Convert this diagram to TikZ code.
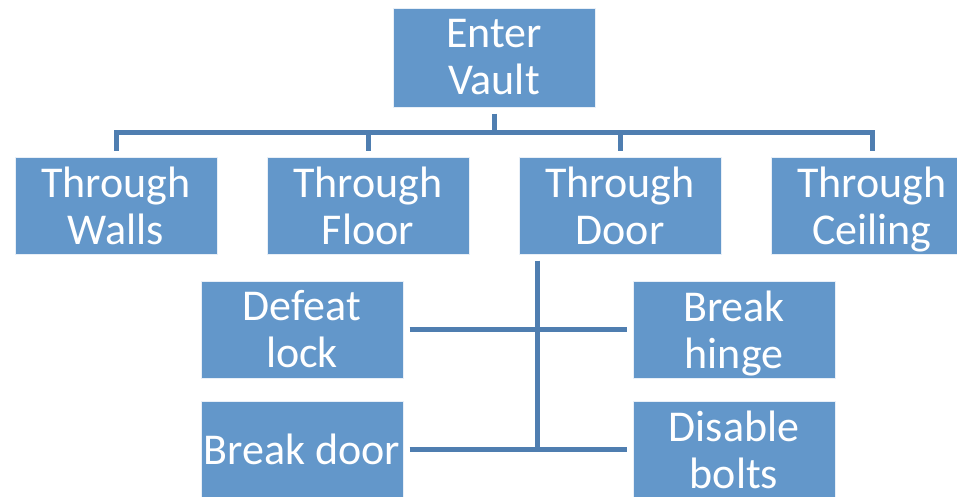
\documentclass[tikz,border=0pt]{standalone}
\usepackage{fontspec}
\setmainfont{Carlito}
\definecolor{boxblue}{HTML}{6397CA}
\definecolor{lineblue}{HTML}{4F7EB0}
\newcommand\nodesc[1]{\raisebox{0pt}[\height][0pt]{#1}}
\begin{document}
\begin{tikzpicture}[x=1pt,y=-1pt,
  box/.style={fill=boxblue, draw=white!85!boxblue, line width=1pt, minimum width=202pt, minimum height=97pt,
    text=white, font=\fontsize{44}{47}\selectfont, align=center, inner sep=0pt},
  conn/.style={draw=lineblue, line width=5pt}]
\useasboundingbox (0,0) rectangle (957,496);
\node[box, minimum height=99pt] (ev) at (494,57.5) {Enter\\Vault};
\node[box] (walls) at (116,205.5) {Through\\Walls};
\node[box] (floor) at (368,205.5) {Through\\Floor};
\node[box] (door) at (620,205.5) {Through\\Door};
\node[box] (ceil) at (872,205.5) {Through\\\nodesc{Ceiling}};
\node[box] (defeat) at (302,329.5) {Defeat\\lock};
\node[box] (hinge) at (734,329.5) {Break\\\nodesc{hinge}};
\node[box] (bdoor) at (302,449.5) {Break door};
\node[box] (bolts) at (734,449.5) {Disable\\bolts};
% top level connectors
\coordinate (bus) at (0,132);
\draw[conn] ([yshift=-6pt]ev.south) -- (ev.south |- bus);
\draw[conn] ([yshift=6pt]walls.north) -- (walls.north |- bus) -- (ceil.north |- bus) -- ([yshift=6pt]ceil.north);
\draw[conn] ([yshift=6pt]floor.north) -- (floor.north |- bus);
\draw[conn] ([yshift=6pt]door.north) -- (door.north |- bus);
% door children
\coordinate (spine) at (537,0);
\draw[conn] (spine |- door.south) ++(0,6) -- (spine |- bdoor.center);
\draw[conn] ([xshift=6pt]defeat.east) -- ([xshift=-6pt]hinge.west);
\draw[conn] ([xshift=6pt]bdoor.east) -- ([xshift=-6pt]bolts.west);
\end{tikzpicture}
\end{document}
